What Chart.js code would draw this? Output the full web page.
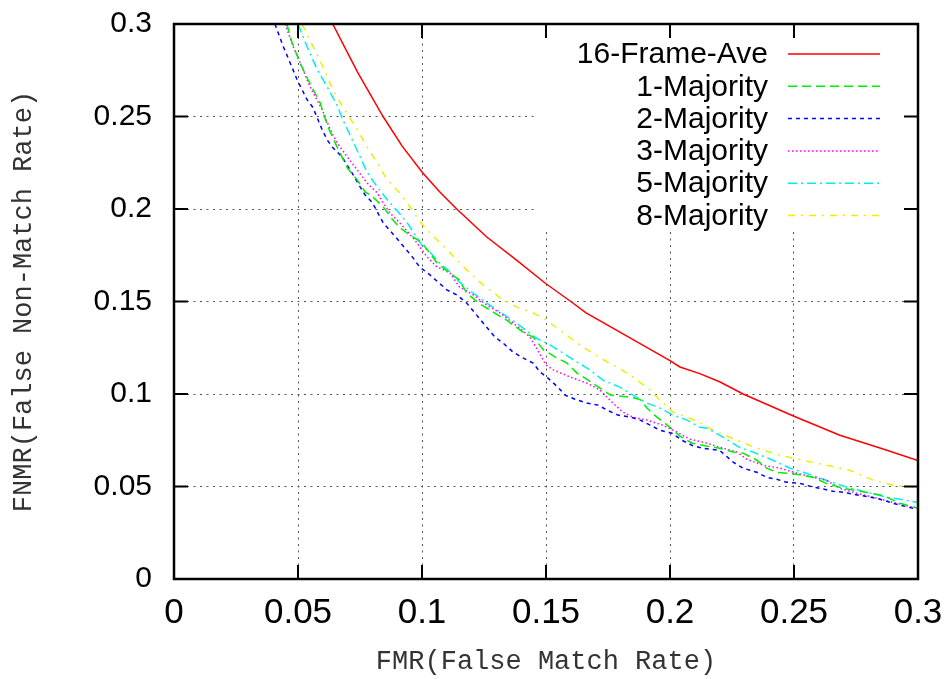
<!DOCTYPE html>
<html>
<head>
<meta charset="utf-8">
<script src="https://cdn.jsdelivr.net/npm/chart.js@4/dist/chart.umd.min.js"></script>
<style>
  body { margin: 0; background: #fff; }
</style>
</head>
<body>
<canvas id="myChart" width="951" height="679"></canvas>
<script>
// data

const seriesNames = ["16-Frame-Ave", "1-Majority", "2-Majority", "3-Majority", "5-Majority", "8-Majority"];
const tickLabels = ["0", "0.05", "0.1", "0.15", "0.2", "0.25", "0.3"];

const aveX = [0.064, 0.074, 0.0843, 0.092, 0.1, 0.107, 0.114, 0.126, 0.138, 0.1496, 0.16, 0.166, 0.2, 0.204, 0.212, 0.22, 0.2295, 0.25, 0.2685, 0.285, 0.3];
const aveY = [0.3, 0.274, 0.25, 0.234, 0.22, 0.2095, 0.2, 0.185, 0.1725, 0.16, 0.15, 0.144, 0.118, 0.1146, 0.111, 0.1066, 0.1, 0.088, 0.0777, 0.0707, 0.064];

const maj1X = [0.0455, 0.0476, 0.0508, 0.054, 0.0589, 0.062, 0.0657, 0.07, 0.0738, 0.077, 0.08, 0.0843, 0.0883, 0.091, 0.094, 0.1, 0.106, 0.1105, 0.115, 0.118, 0.123, 0.1287, 0.134, 0.1407, 0.1448, 0.149, 0.1544, 0.1585, 0.1625, 0.167, 0.1718, 0.176, 0.184, 0.188, 0.1907, 0.1947, 0.2, 0.204, 0.209, 0.215, 0.22, 0.2255, 0.2295, 0.235, 0.239, 0.243, 0.251, 0.2577, 0.263, 0.27, 0.2766, 0.2859, 0.2927, 0.3];
const maj1Y = [0.3, 0.29, 0.279, 0.27, 0.2575, 0.2446, 0.2337, 0.222, 0.2159, 0.2094, 0.2067, 0.2013, 0.194, 0.19, 0.187, 0.1817, 0.171, 0.166, 0.1617, 0.1546, 0.149, 0.1443, 0.14, 0.1335, 0.1308, 0.1238, 0.1195, 0.1167, 0.1113, 0.1075, 0.1032, 0.0994, 0.0983, 0.097, 0.0924, 0.0875, 0.082, 0.0772, 0.0734, 0.0718, 0.0707, 0.0686, 0.068, 0.0642, 0.0599, 0.0577, 0.0566, 0.055, 0.0517, 0.049, 0.0474, 0.0452, 0.0409, 0.0382];

const maj2X = [0.0407, 0.044, 0.0476, 0.0496, 0.0516, 0.0536, 0.056, 0.0597, 0.0617, 0.064, 0.0677, 0.0722, 0.075, 0.077, 0.08, 0.0843, 0.0903, 0.0964, 0.099, 0.1032, 0.11, 0.114, 0.118, 0.126, 0.1294, 0.1327, 0.1367, 0.1407, 0.1448, 0.1476, 0.1508, 0.1548, 0.1577, 0.1617, 0.1665, 0.171, 0.1746, 0.179, 0.184, 0.188, 0.192, 0.196, 0.2008, 0.2048, 0.2093, 0.2133, 0.22, 0.2255, 0.2295, 0.235, 0.239, 0.243, 0.247, 0.2524, 0.2565, 0.2605, 0.2657, 0.2698, 0.2766, 0.2835, 0.29, 0.298, 0.3];
const maj2Y = [0.3, 0.288, 0.2765, 0.27, 0.2646, 0.2592, 0.2549, 0.243, 0.2375, 0.2332, 0.2283, 0.2186, 0.2121, 0.2077, 0.2034, 0.1926, 0.1834, 0.1736, 0.1687, 0.1644, 0.1563, 0.1536, 0.1492, 0.1362, 0.1308, 0.1275, 0.1227, 0.1195, 0.1167, 0.1119, 0.1086, 0.1037, 0.0994, 0.0972, 0.0951, 0.094, 0.0913, 0.0886, 0.0875, 0.0859, 0.0832, 0.0804, 0.0788, 0.075, 0.072, 0.0707, 0.0696, 0.0631, 0.0599, 0.0577, 0.055, 0.0539, 0.0523, 0.0517, 0.0501, 0.049, 0.0474, 0.0469, 0.0452, 0.0436, 0.0409, 0.0382, 0.0378];

const maj3X = [0.0448, 0.048, 0.052, 0.0548, 0.0597, 0.063, 0.0657, 0.0698, 0.0738, 0.0778, 0.0819, 0.0843, 0.087, 0.091, 0.097, 0.102, 0.106, 0.1113, 0.115, 0.1206, 0.126, 0.1315, 0.1395, 0.1435, 0.1465, 0.15, 0.153, 0.1597, 0.1665, 0.1718, 0.177, 0.181, 0.185, 0.1907, 0.197, 0.2028, 0.208, 0.215, 0.22, 0.227, 0.231, 0.2375, 0.2444, 0.2512, 0.2577, 0.263, 0.2685, 0.2754, 0.282, 0.29, 0.298, 0.3];
const maj3Y = [0.3, 0.288, 0.2754, 0.2662, 0.2538, 0.243, 0.2359, 0.2283, 0.2213, 0.2142, 0.2088, 0.2034, 0.198, 0.1926, 0.1834, 0.1742, 0.1687, 0.1655, 0.158, 0.1536, 0.1482, 0.1438, 0.1355, 0.1308, 0.124, 0.1157, 0.113, 0.1092, 0.1059, 0.1021, 0.0951, 0.0902, 0.0875, 0.0859, 0.0832, 0.0794, 0.0756, 0.0734, 0.0712, 0.0686, 0.0647, 0.0615, 0.0599, 0.0572, 0.055, 0.0534, 0.049, 0.0463, 0.0442, 0.0414, 0.0388, 0.0385];

const maj5X = [0.05, 0.0536, 0.0577, 0.0617, 0.066, 0.068, 0.071, 0.075, 0.0778, 0.0819, 0.086, 0.09, 0.094, 0.1004, 0.103, 0.107, 0.1113, 0.115, 0.1206, 0.126, 0.1315, 0.138, 0.1464, 0.1516, 0.157, 0.1625, 0.1677, 0.173, 0.1798, 0.185, 0.1907, 0.196, 0.2012, 0.2069, 0.212, 0.215, 0.2214, 0.228, 0.2335, 0.2415, 0.2484, 0.255, 0.263, 0.2714, 0.2794, 0.2875, 0.2927, 0.3];
const maj5Y = [0.3, 0.288, 0.2754, 0.2662, 0.2554, 0.2484, 0.24, 0.2283, 0.22, 0.212, 0.205, 0.199, 0.1926, 0.1796, 0.1769, 0.171, 0.166, 0.1606, 0.1546, 0.1492, 0.1443, 0.1384, 0.13, 0.1265, 0.122, 0.1173, 0.113, 0.1075, 0.1037, 0.0994, 0.0951, 0.0924, 0.0886, 0.0859, 0.082, 0.0815, 0.0767, 0.0712, 0.0686, 0.0642, 0.0599, 0.0572, 0.0534, 0.0496, 0.0469, 0.0442, 0.0431, 0.0414];

const maj8X = [0.0516, 0.056, 0.06, 0.064, 0.068, 0.0738, 0.0778, 0.0819, 0.0859, 0.091, 0.095, 0.099, 0.102, 0.106, 0.1113, 0.118, 0.1246, 0.1315, 0.138, 0.1448, 0.149, 0.1556, 0.1637, 0.1718, 0.1786, 0.185, 0.192, 0.196, 0.2012, 0.2069, 0.2125, 0.2173, 0.227, 0.235, 0.2444, 0.2536, 0.263, 0.2726, 0.282, 0.29, 0.3];
const maj8Y = [0.3, 0.288, 0.277, 0.2646, 0.2554, 0.243, 0.2337, 0.225, 0.2159, 0.2088, 0.2015, 0.1935, 0.1888, 0.1834, 0.1763, 0.1671, 0.159, 0.152, 0.1471, 0.1438, 0.1411, 0.1346, 0.1265, 0.1195, 0.1146, 0.1092, 0.1021, 0.0967, 0.0902, 0.0875, 0.0842, 0.0804, 0.075, 0.0707, 0.0669, 0.0642, 0.0615, 0.0588, 0.0534, 0.0507, 0.0496];

// --------------styles---------------------//
const allX = [aveX, maj1X, maj2X, maj3X, maj5X, maj8X];
const allY = [aveY, maj1Y, maj2Y, maj3Y, maj5Y, maj8Y];
const colors = ["#ff0000", "#00ee00", "#0000ff", "#ff00ff", "#00eeee", "#eeee00"];
const dashes = [[], [9, 5], [4, 4], [1.5, 2.5], [9, 4, 2, 4], [7, 6, 2, 6]];

const toPoints = (xs, ys) => xs.map((x, i) => ({ x: x, y: ys[i] }));

let datasets = seriesNames.map((name, i) => ({
  label: name,
  data: toPoints(allX[i], allY[i]),
  borderColor: colors[i],
  borderWidth: 1.5,
  borderDash: dashes[i],
  pointRadius: 0,
  fill: false,
  tension: 0,
}));

// gnuplot-like frame, mirrored inner ticks and an opaque key inside the plot
const framePlugin = {
  id: "frame",
  afterDatasetsDraw(chart) {
    const ctx = chart.ctx;
    const a = chart.chartArea;
    const xs = chart.scales.x;
    const ys = chart.scales.y;

    // key box (covers the grid behind it)
    ctx.save();
    ctx.fillStyle = "#fff";
    ctx.fillRect(537, a.top, a.right - 537, 232 - a.top);

    ctx.font = "30px 'Liberation Sans', Arial, sans-serif";
    ctx.textAlign = "right";
    ctx.textBaseline = "middle";
    chart.data.datasets.forEach((ds, i) => {
      const y = 54 + i * 32.3;
      ctx.fillStyle = "#000";
      ctx.fillText(ds.label, 768, y + 1);
      ctx.beginPath();
      ctx.strokeStyle = ds.borderColor;
      ctx.lineWidth = 1.5;
      ctx.setLineDash(ds.borderDash);
      ctx.moveTo(788, y);
      ctx.lineTo(880, y);
      ctx.stroke();
    });
    ctx.setLineDash([]);

    // ticks
    ctx.strokeStyle = "#000";
    ctx.lineWidth = 2;
    ctx.beginPath();
    xs.ticks.forEach((t) => {
      const px = xs.getPixelForValue(t.value);
      ctx.moveTo(px, a.bottom);
      ctx.lineTo(px, a.bottom - 14);
      ctx.moveTo(px, a.top);
      ctx.lineTo(px, a.top + 14);
    });
    ys.ticks.forEach((t) => {
      const py = ys.getPixelForValue(t.value);
      ctx.moveTo(a.left, py);
      ctx.lineTo(a.left + 14, py);
      ctx.moveTo(a.right, py);
      ctx.lineTo(a.right - 14, py);
    });
    ctx.stroke();

    // border
    ctx.lineWidth = 2.5;
    ctx.strokeRect(a.left, a.top, a.right - a.left, a.bottom - a.top);
    ctx.restore();
  },
};

let myChart = document.getElementById("myChart").getContext("2d");
let chart = new Chart(myChart, {
  type: "line",
  data: { datasets: datasets },
  plugins: [framePlugin],
  options: {
    responsive: false,
    animation: false,
    layout: { padding: { left: 0, top: 24, right: 33, bottom: 0 } },
    plugins: {
      legend: { display: false },
      tooltip: { enabled: false },
    },
    scales: {
      x: {
        type: "linear",
        min: 0,
        max: 0.3,
        afterFit: (scale) => {
          scale.height = 100;
          scale.paddingLeft = 0;
          scale.paddingRight = 0;
        },
        ticks: {
          stepSize: 0.05,
          padding: 17,
          color: "#000",
          font: { family: "'Liberation Sans', sans-serif", size: 35, lineHeight: 1 },
          maxRotation: 0,
          callback: (v, i) => tickLabels[i],
        },
        grid: { color: "#555", lineWidth: 1, drawTicks: false },
        border: { display: false, dash: [2, 4.5] },
        title: {
          display: true,
          text: "FMR(False Match Rate)",
          color: "#333",
          font: { family: "'Liberation Mono', monospace", size: 27, lineHeight: 1.2 },
          padding: { top: 0, bottom: 1 },
        },
      },
      y: {
        min: 0,
        max: 0.3,
        afterFit: (scale) => {
          scale.width = 174;
          scale.paddingTop = 0;
          scale.paddingBottom = 0;
        },
        ticks: {
          stepSize: 0.05,
          padding: 22,
          color: "#000",
          font: { family: "'Liberation Sans', sans-serif", size: 30, lineHeight: 1 },
          callback: (v, i) => tickLabels[i],
        },
        grid: { color: "#555", lineWidth: 1, drawTicks: false },
        border: { display: false, dash: [2, 4.5] },
        title: {
          display: true,
          text: "FNMR(False Non-Match Rate)",
          color: "#333",
          font: { family: "'Liberation Mono', monospace", size: 27, lineHeight: 1.2 },
          padding: { top: 8, bottom: 0 },
        },
      },
    },
  },
});
</script>
</body>
</html>
